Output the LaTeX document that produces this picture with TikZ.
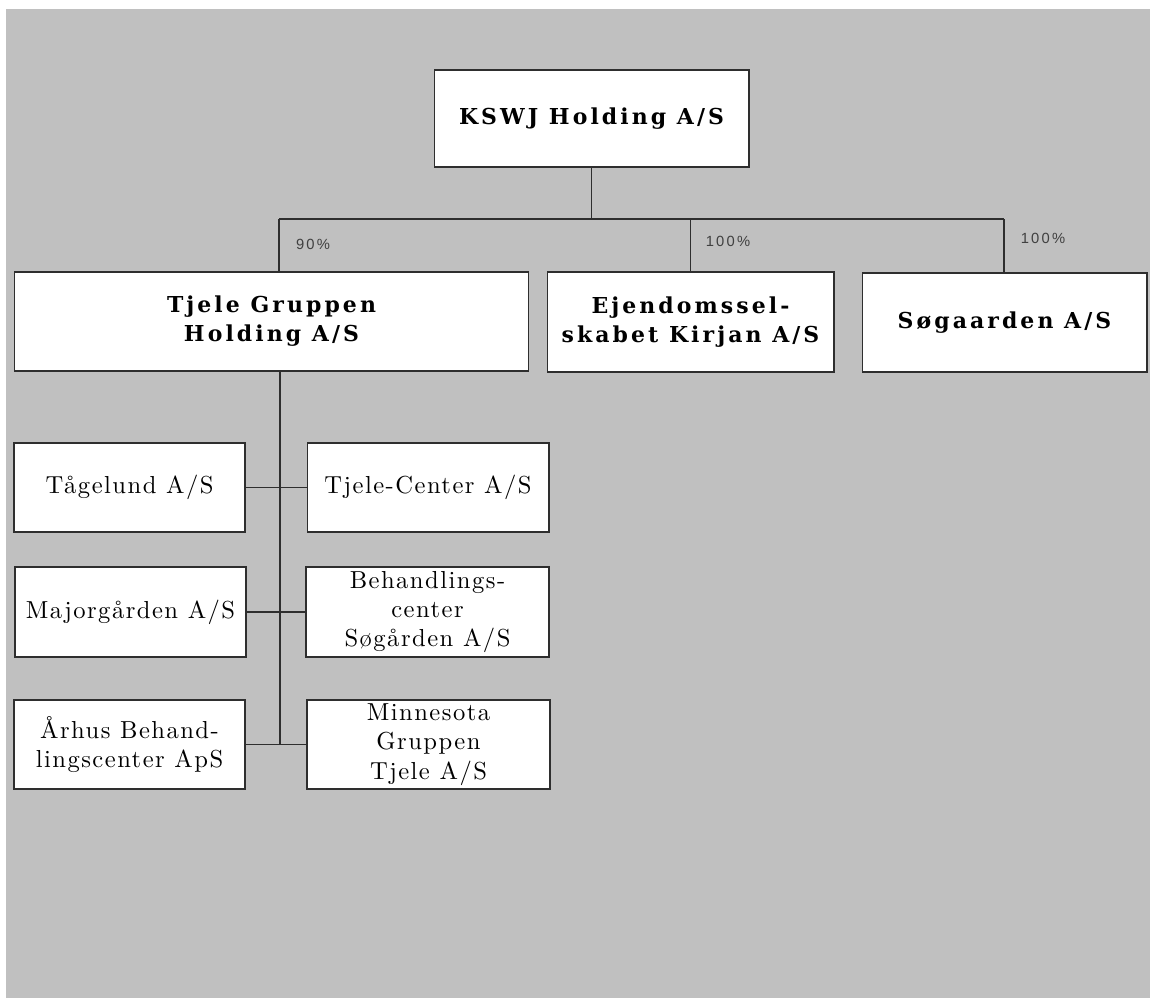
\documentclass[tikz,border=0pt]{standalone}
\usepackage{fontspec}
\newfontfamily\headfont{DejaVu Serif}[LetterSpace=14]
\newfontfamily\subfont{lmroman10-regular.otf}[LetterSpace=6]
\newfontfamily\pctfont{Liberation Sans}[LetterSpace=15]

\definecolor{sheetgray}{HTML}{C0C0C0}
\definecolor{linegray}{HTML}{2E2E2E}

\tikzset{
  headbox/.style={draw=linegray, fill=white, line width=0.6pt, inner sep=0pt, align=center,
    font=\headfont\bfseries\fontsize{12.5}{16.5}\selectfont},
  subbox/.style={draw=linegray, fill=white, line width=0.6pt, inner sep=0pt, align=center,
    font=\subfont\fontsize{14}{16.7}\selectfont},
  pct/.style={font=\pctfont\fontsize{8.4}{10}\selectfont, text=black!75},
  link/.style={draw=linegray, line width=0.6pt}
}

\begin{document}
\begin{tikzpicture}[x=0.02cm, y=-0.02cm]
    %Define the sheet
    \useasboundingbox (0,0) rectangle (1150,998);
    \fill[sheetgray] (6,9) rectangle (1150,998);

    % Add the top holding
    \node[headbox, minimum width=6.3cm, minimum height=1.94cm] (holding) at (591.5,118.5) {KSWJ Holding A/S};

    % Add the first level
    \node[headbox, minimum width=10.3cm, minimum height=1.98cm] (tjele) at (271.5,321.5) {Tjele Gruppen\\ Holding A/S};
    \node[headbox, minimum width=5.74cm, minimum height=2cm] (ejendom) at (690.5,322) {Ejendomssel-\\skabet Kirjan A/S};
    \node[headbox, minimum width=5.7cm, minimum height=1.98cm] (soeg) at (1004.5,322.5) {Søgaarden A/S};

    % Add the companies under Tjele Gruppen
    \node[subbox, minimum width=4.62cm, minimum height=1.78cm] (tage) at (129.5,487.5) {Tågelund A/S};
    \node[subbox, minimum width=4.84cm, minimum height=1.78cm] (tcenter) at (428,487.5) {Tjele-Center A/S};
    \node[subbox, minimum width=4.62cm, minimum height=1.8cm] (major) at (130.5,612) {Majorgården A/S};
    \node[subbox, minimum width=4.86cm, minimum height=1.8cm] (behand) at (427.5,612) {Behandlings-\\center\\Søgården A/S};
    \node[subbox, minimum width=4.62cm, minimum height=1.78cm] (aarhus) at (129.5,744.5) {Århus Behand-\\lingscenter ApS};
    \node[subbox, minimum width=4.86cm, minimum height=1.78cm] (minn) at (428.5,744.5) {Minnesota\\Gruppen\\Tjele A/S};

    % Add the ownership bus
    \coordinate (busL) at (279,219);
    \coordinate (busR) at (1004,219);
    \coordinate (spine) at (280,744);
    \draw[link] (holding.south) -- (holding.south |- busL);
    \draw[link] (busL) -- (busR);
    \draw[link] (busL) -- (busL |- tjele.north);
    \draw[link] (ejendom.north) -- (ejendom.north |- busL);
    \draw[link] (busR) -- (busR |- soeg.north);

    % Add the shares
    \node[pct] (p90) at (313,244) {90\%};
    \node[pct] (p100a) at (728,241) {100\%};
    \node[pct] (p100b) at (1043,238) {100\%};

    %Add the spine and the branches
    \draw[link] (spine |- tjele.south) -- (spine);
    \draw[link] (tage.east) -- (tcenter.west);
    \draw[link] (major.east) -- (behand.west);
    \draw[link] (aarhus.east) -- (minn.west);
\end{tikzpicture}
\end{document}
